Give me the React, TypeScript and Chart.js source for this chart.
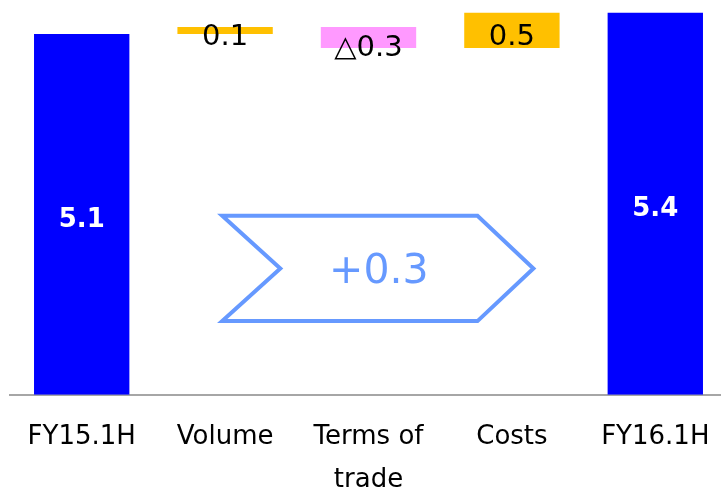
import React, { useEffect, useRef } from "react";
import { Chart, registerables } from "chart.js";

Chart.register(...registerables);

const categories: (string | string[])[] = ["FY15.1H", "Volume", ["Terms of", "trade"], "Costs", "FY16.1H"];
const changes: number[] = [5.1, 0.1, -0.3, 0.5, 5.4];
const isTotal: boolean[] = [true, false, false, false, true];
const valueLabels: string[] = ["5.1", "0.1", "△0.3", "0.5", "5.4"];
const barColors: string[] = ["#0000ff", "#ffc000", "#ff99ff", "#ffc000", "#0000ff"];
const totalChangeLabel = "+0.3";

function buildRanges(): [number, number][] {
  const out: [number, number][] = [];
  let level = 0;
  changes.forEach((v, i) => {
    if (isTotal[i]) {
      out.push([0, v]);
      level = v;
    } else {
      out.push([level, level + v]);
      level = level + v;
    }
  });
  return out;
}

const labelPlugin = {
  id: "wfLabels",
  afterDatasetsDraw(chart: any) {
    const ctx = chart.ctx;
    const meta = chart.getDatasetMeta(0);
    const xs = chart.scales.x;
    const ys = chart.scales.y;

    // arrow annotation
    const p1 = xs.getPixelForValue(1);
    const p3 = xs.getPixelForValue(3);
    const step = xs.getPixelForValue(2) - p1;
    const left = p1 - 0.02 * step;
    const notch = p1 + 0.385 * step;
    const topRight = p3 - 0.24 * step;
    const tip = p3 + 0.15 * step;
    const yt = ys.getPixelForValue(2.53);
    const yb = ys.getPixelForValue(1.04);
    const ym = (yt + yb) / 2;
    ctx.save();
    ctx.strokeStyle = "#6699ff";
    ctx.lineWidth = 4;
    ctx.lineJoin = "miter";
    ctx.beginPath();
    ctx.moveTo(left, yt);
    ctx.lineTo(topRight, yt);
    ctx.lineTo(tip, ym);
    ctx.lineTo(topRight, yb);
    ctx.lineTo(left, yb);
    ctx.lineTo(notch, ym);
    ctx.closePath();
    ctx.stroke();
    ctx.fillStyle = "#6699ff";
    ctx.font = "41px 'DejaVu Sans'";
    ctx.textAlign = "center";
    ctx.textBaseline = "middle";
    ctx.fillText(totalChangeLabel, (notch + topRight) / 2, ym + 4);
    ctx.restore();

    meta.data.forEach((bar: any, i: number) => {
      const { x, y, base } = bar.getProps(["x", "y", "base"], true);
      const cy = (y + base) / 2;
      ctx.save();
      ctx.textAlign = "center";
      ctx.textBaseline = "middle";
      if (isTotal[i]) {
        ctx.fillStyle = "#ffffff";
        ctx.font = "bold 26px 'DejaVu Sans'";
        ctx.fillText(valueLabels[i], x, cy + 6);
      } else {
        ctx.fillStyle = "#000000";
        ctx.font = "29px 'DejaVu Sans'";
        ctx.fillText(valueLabels[i], x, cy + (changes[i] < 0 ? 11 : 7));
      }
      ctx.restore();
    });
  },
};

export default function App() {
  const ref = useRef<HTMLCanvasElement | null>(null);
  useEffect(() => {
    if (!ref.current) return;
    const chart = new Chart(ref.current, {
      type: "bar",
      data: {
        labels: categories as any,
        datasets: [
          {
            data: buildRanges() as any,
            backgroundColor: barColors,
            borderWidth: 0,
            categoryPercentage: 1,
            barPercentage: 0.665,
          },
        ],
      },
      options: {
        responsive: false,
        animation: false,
        layout: { padding: { left: 10, right: 1, top: 0, bottom: 0 } },
        plugins: { legend: { display: false }, tooltip: { enabled: false } },
        scales: {
          x: {
            grid: { display: false, drawTicks: true, tickLength: 21 },
            border: { display: true, color: "#a6a6a6", width: 2 },
            ticks: {
              color: "#000000",
              padding: 0,
              font: { family: "'DejaVu Sans'", size: 26, lineHeight: 1.66 },
              maxRotation: 0,
              autoSkip: false,
            },
          },
          y: {
            display: false,
            min: 0,
            max: 5.58,
          },
        },
      },
      plugins: [labelPlugin],
    });
    return () => chart.destroy();
  }, []);
  return (
    <div
      style={{
        position: "fixed",
        left: 0,
        top: 0,
        width: 721,
        height: 488,
        overflow: "hidden",
        background: "#ffffff",
      }}
    >
      <canvas ref={ref} width={728} height={502} style={{ display: "block" }} />
    </div>
  );
}
